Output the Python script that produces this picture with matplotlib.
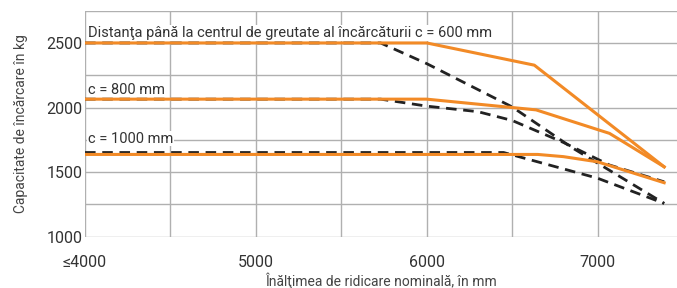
import matplotlib.pyplot as plt

plt.rcParams['font.family'] = ['Roboto', 'DejaVu Sans']

# orange (solid) curves
x_or_600 = [4000, 6000, 6630, 7390]
y_or_600 = [2500, 2500, 2328, 1541]
x_or_800 = [4000, 6000, 6640, 7070, 7390]
y_or_800 = [2065, 2065, 1982, 1800, 1541]
x_or_1000 = [4000, 6650, 6800, 7000, 7390]
y_or_1000 = [1637, 1637, 1620, 1580, 1418]

# black (dashed) curves
x_bk_600 = [4000, 5730, 6000, 6500, 6850, 7390]
y_bk_600 = [2500, 2500, 2340, 2005, 1690, 1258]
x_bk_800 = [4000, 5730, 6000, 6300, 6500, 6800, 7070, 7390]
y_bk_800 = [2065, 2065, 2011, 1968, 1900, 1730, 1555, 1425]
x_bk_1000 = [4000, 6450, 7000, 7390]
y_bk_1000 = [1652, 1652, 1453, 1258]

xticks = [4000, 5000, 6000, 7000]
xticklabels = ['≤4000', '5000', '6000', '7000']
yticks = [1000, 1500, 2000, 2500]

labels = ['Distanţa până la centrul de greutate al încărcăturii c = 600 mm',
          'c = 800 mm', 'c = 1000 mm']
label_y = [2578, 2135, 1760]

orange = '#f28a26'
grid = '#b0b0b0'

fig = plt.figure(figsize=(6.77, 2.88), dpi=100)
ax = fig.add_axes([0.1256, 0.178, 0.8744, 0.785])

for xs in range(4000, 7600, 500):
    ax.axvline(xs, color=grid, lw=1, zorder=0)
for ys in range(1000, 2800, 250):
    ax.axhline(ys, color=grid, lw=1, zorder=0)

for t, yv in zip(labels, label_y):
    ax.text(4018, yv, t, ha='left', va='center', fontsize=10.5, color='#333333',
            bbox=dict(facecolor='white', edgecolor='none', pad=0.5), zorder=1)

dash = dict(color='#222222', lw=2, ls=(0, (3.8, 2.4)), zorder=2)
ax.plot(x_bk_600, y_bk_600, **dash)
ax.plot(x_bk_800, y_bk_800, **dash)
ax.plot(x_bk_1000, y_bk_1000, **dash)

ax.plot(x_or_600, y_or_600, color=orange, lw=2.2, zorder=3)
ax.plot(x_or_800, y_or_800, color=orange, lw=2.2, zorder=3)
ax.plot(x_or_1000, y_or_1000, color=orange, lw=2.2, zorder=3)

ax.set_xlim(4000, 7465)
ax.set_ylim(1000, 2750)
ax.set_xticks(xticks)
ax.set_xticklabels(xticklabels)
ax.set_yticks(yticks)
ax.tick_params(axis='both', length=0, labelsize=11.5, colors='#333333')
ax.tick_params(axis='x', pad=13)
ax.tick_params(axis='y', pad=2)
for s in ax.spines.values():
    s.set_visible(False)

ax.set_xlabel('Înălţimea de ridicare nominală, în mm', fontsize=10, color='#444444', labelpad=2)
ax.set_ylabel('Capacitate de încărcare în kg', fontsize=10, color='#444444', labelpad=13)

fig.savefig('out.png', dpi=100)
